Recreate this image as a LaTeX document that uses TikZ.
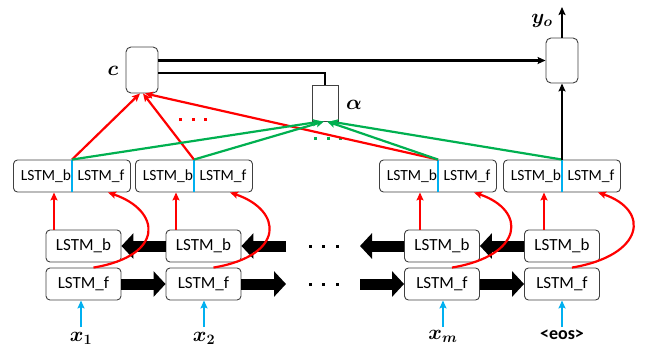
\documentclass[tikz,border=0pt]{standalone}
\usepackage{fontspec}
\setmainfont{Carlito}
\usepackage{amsmath,bm}
\usetikzlibrary{arrows.meta,calc}
\definecolor{boxgray}{HTML}{404040}
\definecolor{myred}{HTML}{FF0000}
\definecolor{mygreen}{HTML}{00B050}
\definecolor{myblue}{HTML}{00B0F0}
\begin{document}
\begin{tikzpicture}[x=1pt,y=-1pt,
  box/.style={draw=boxgray, line width=0.9pt, rounded corners=4pt, minimum width=75pt, minimum height=32pt, inner sep=0pt, fill=white, font=\fontsize{17}{17}\selectfont},
  tbox/.style={box, minimum width=117pt},
  ttxt/.style={inner sep=0pt, font=\fontsize{15.5}{15.5}\selectfont},
  sbox/.style={draw=boxgray, line width=0.9pt, rounded corners=5pt, minimum width=32pt, inner sep=0pt, fill=white},
  tip/.style={-{Stealth[length=8pt,width=7pt,inset=1.5pt]}},
  redarr/.style={tip, draw=myred, line width=2.2pt},
  greenarr/.style={tip, draw=mygreen, line width=2.2pt},
  bluearr/.style={tip, draw=myblue, line width=2.4pt},
  blackarr/.style={tip, draw=black, line width=2.2pt},
  fat/.style={line width=11pt, -{Triangle[length=12pt,width=25pt]}},
  lbl/.style={inner sep=1pt, font=\fontsize{21}{21}\selectfont\boldmath},
]
\useasboundingbox (0,0) rectangle (645,349);

% bottom boxes
\foreach \i/\x in {1/83.5,2/203.5,3/442,4/562}{
  \node[box] (b\i) at (\x,246) {LSTM\_b};
  \node[box] (f\i) at (\x,284) {LSTM\_f};
}
% top boxes
\foreach \i/\x in {1/72,2/194,3/438,4/562}{
  \node[tbox] (t\i) at (\x,176) {};
  \node[ttxt] (t\i l) at ($(t\i.center)+(-26,0)$) {LSTM\_b};
  \node[ttxt] (t\i r) at ($(t\i.center)+(29,0)$) {LSTM\_f};
}
\foreach \i in {1,2,3,4}{
  \draw[myblue, line width=1.8pt] (t\i.north) -- (t\i.south);
}

% upper boxes
\node[sbox, minimum height=46pt] (c) at (142,70) {};
\node[draw=boxgray, line width=0.9pt, minimum width=26pt, minimum height=36pt, inner sep=0pt, fill=white] (alpha) at (325,103) {};
\node[sbox, minimum height=45pt] (out) at (562,60.5) {};
\node[lbl] (clab) at (113,71) {$c$};
\node[lbl] (alab) at (354,105) {$\alpha$};
\node[lbl] (ylab) at (542,21) {$y_o$};
\coordinate (yend) at (562,7);

% input labels
\node[lbl] (x1) at (81,338) {$x_1$};
\node[lbl] (x2) at (204,338) {$x_2$};
\node[lbl] (xm) at (443,336) {$x_m$};
\node[inner sep=1pt, font=\fontsize{18}{18}\selectfont\bfseries] (eos) at (562,335) {<eos>};
\foreach \l/\i in {x1/1,x2/2,xm/3,eos/4}{
  \draw[bluearr] (\l.north |- 0,327) -- (\l.north |- f\i.south);
}

% thick recurrent arrows
\coordinate (bend) at (286,246);
\coordinate (fend) at (286,284);
\coordinate (bst) at (360,246);
\coordinate (fst) at (360,284);
\draw[fat] (b2.west) -- (b1.east);
\draw[fat] (bend) -- (b2.east);
\draw[fat] (b3.west) -- (bst);
\draw[fat] (b4.west) -- (b3.east);
\draw[fat] (f1.east) -- (f2.west);
\draw[fat] (f2.east) -- (fend);
\draw[fat] (fst) -- (f3.west);
\draw[fat] (f3.east) -- (f4.west);

% dots
\foreach \x in {310,323,337}{
  \fill[black] (\x-1.5,244.5) rectangle +(3,3);
  \fill[black] (\x-1.5,282.5) rectangle +(3,3);
}
\foreach \x in {180,193,205}{
  \fill[myred] (\x-1.5,117.5) rectangle +(3,3);
}
\foreach \x in {315,328,340}{
  \fill[mygreen] (\x-1.5,136.5) rectangle +(3,3);
}

% red vertical b -> top
\foreach \i in {1,2,3,4}{
  \coordinate (rb\i) at ($(t\i.center)+(-18,0)$);
  \draw[redarr] (rb\i |- b\i.north) -- (rb\i |- t\i.south);
}
% red curves f -> top
\foreach \i in {1,2,3,4}{
  \draw[redarr] ($(f\i.north)+(10,0)$) .. controls +(72,-12) and +(53,18) .. ($(t\i.south)+(36,0)$);
}

% red to c
\draw[redarr] (t1.north) -- ($(c.south)+(-2,0)$);
\draw[redarr] (t2.north) -- ($(c.south)+(1,0)$);
\draw[redarr] (t3.north) -- ($(c.south)+(3,0)$);

% green to alpha
\draw[greenarr] (t1.north) -- ($(alpha.south)+(-4,0)$);
\draw[greenarr] (t2.north) -- ($(alpha.south)+(-1,0)$);
\draw[greenarr] (t3.north) -- ($(alpha.south)+(2,0)$);
\draw[greenarr] (t4.north) -- ($(alpha.south)+(5,0)$);

% black connections
\draw[blackarr] (c.east |- out.west) -- (out.west);
\draw[black, line width=2.2pt] ($(c.east)+(0,3)$) -| (alpha.north);
\draw[blackarr] (t4.north) -- (out.south);
\draw[blackarr] (out.north) -- (yend);
\end{tikzpicture}
\end{document}
